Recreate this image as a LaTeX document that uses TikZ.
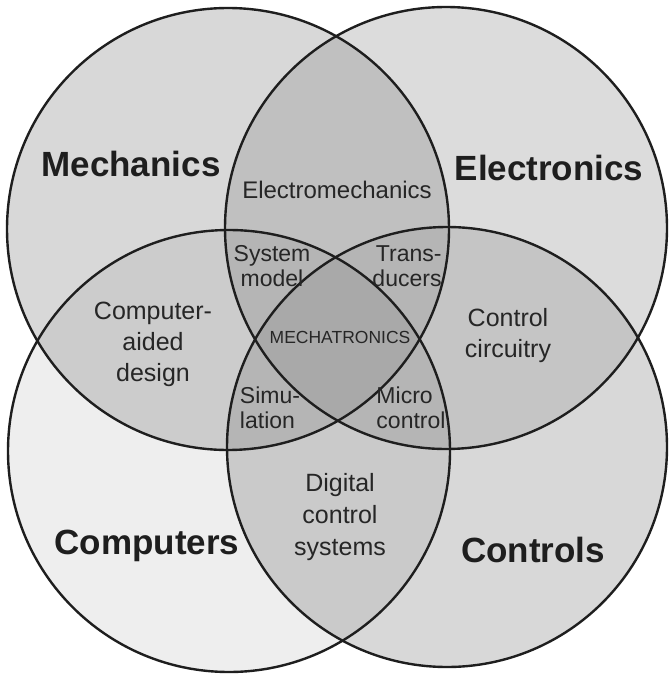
\documentclass[tikz,border=0pt]{standalone}
\usepackage{fontspec}
\setmainfont{Liberation Sans}
\definecolor{cMech}{HTML}{D8D8D8}
\definecolor{cElec}{HTML}{DCDCDC}
\definecolor{cComp}{HTML}{EEEEEE}
\definecolor{cCtrl}{HTML}{D8D8D8}
\definecolor{cME}{HTML}{C0C0C0}
\definecolor{cMC}{HTML}{CCCCCC}
\definecolor{cEC}{HTML}{C5C5C5}
\definecolor{cCC}{HTML}{CACACA}
\definecolor{cTri}{HTML}{B5B5B5}
\definecolor{cAll}{HTML}{A9A9A9}
\definecolor{cLine}{HTML}{1E1E1E}
\definecolor{cText}{HTML}{262626}
\begin{document}
\begin{tikzpicture}[x=1pt,y=-1pt,
  bigl/.style={font=\fontsize{35}{38}\bfseries\selectfont, text=cLine},
  midl/.style={font=\fontsize{25}{31}\selectfont, align=center, text=cText, inner sep=0pt},
  smalll/.style={font=\fontsize{23}{24.5}\selectfont, align=center, text=cText, inner sep=0pt},
  outline/.style={draw=cLine, line width=2.4pt}]
\def\Mech{(228,229) circle[radius=221]}
\def\Elec{(446,228) circle[radius=221]}
\def\Comp{(229,451) circle[radius=221]}
\def\Ctrl{(447,447) circle[radius=220]}
\useasboundingbox (0,0) rectangle (668,676);
\fill[white] (0,0) rectangle (668,676);
% single regions
\fill[cMech] \Mech;
\fill[cElec] \Elec;
\fill[cComp] \Comp;
\fill[cCtrl] \Ctrl;
% pair regions
\begin{scope}\clip \Mech; \fill[cME] \Elec; \end{scope}
\begin{scope}\clip \Mech; \fill[cMC] \Comp; \end{scope}
\begin{scope}\clip \Elec; \fill[cEC] \Ctrl; \end{scope}
\begin{scope}\clip \Comp; \fill[cCC] \Ctrl; \end{scope}
% triple regions
\begin{scope}\clip \Mech; \clip \Elec; \fill[cTri] \Comp; \fill[cTri] \Ctrl; \end{scope}
\begin{scope}\clip \Comp; \clip \Ctrl; \fill[cTri] \Mech; \fill[cTri] \Elec; \end{scope}
% centre
\begin{scope}\clip \Mech; \clip \Elec; \clip \Comp; \fill[cAll] \Ctrl; \end{scope}
% outlines
\draw[outline] \Mech;
\draw[outline] \Elec;
\draw[outline] \Comp;
\draw[outline] \Ctrl;
% labels
\node[bigl] (mech) at (131,164) {Mechanics};
\node[bigl] (elec) at (549,168) {Electronics};
\node[bigl] (comp) at (147,546) {Computers};
\node[bigl] (ctrl) at (533,550) {Controls};
\node[midl, font=\fontsize{24}{31}\selectfont] (em) at (337,190) {Electromechanics};
\node[midl] (cad) at (153,344) {Computer-\\aided\\design};
\node[midl] (cc) at (508,336) {Control\\circuitry};
\node[midl, font=\fontsize{25}{32}\selectfont] (dcs) at (340,517) {Digital\\control\\systems};
\node[smalll] (sm) at (272,266) {System\\model};
\node[smalll, align=right] (tr) at (407,266) {Trans-\\ducers};
\node[smalll, align=left] (si) at (270,408) {Simu-\\lation};
\node[smalll, align=left] (mc) at (411,408) {Micro\\control};
\node[font=\fontsize{17.5}{20}\selectfont, text=cText, inner sep=0pt] (mt) at (340,337) {MECHATRONICS};
\end{tikzpicture}
\end{document}
